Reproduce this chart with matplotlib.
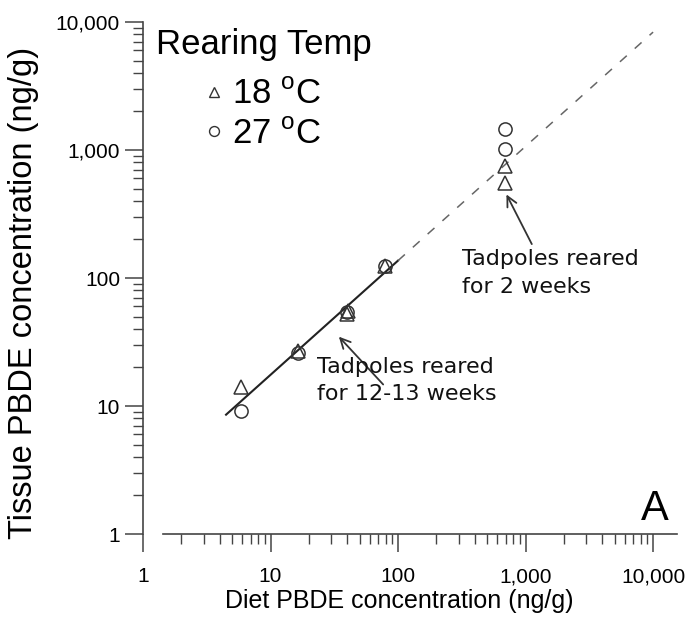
import numpy as np
import matplotlib.pyplot as plt
from matplotlib.ticker import LogLocator, NullFormatter

plt.rcParams['font.family'] = ['Liberation Sans', 'DejaVu Sans']
plt.rcParams['mathtext.fontset'] = 'custom'
plt.rcParams['mathtext.rm'] = 'Liberation Sans'

# data
diet_18 = [5.84, 16.4, 39.6, 40.5, 79, 692, 692]
tissue_18 = [14.2, 27, 52, 55, 124, 750, 556]
diet_27 = [5.84, 16.4, 39.6, 79, 692, 692]
tissue_27 = [9.06, 26, 54, 124, 1453, 1014]

# regression: log10(y) = fit_a + fit_b*log10(x)
fit_a = 0.351
fit_b = 0.8925
fit_start = 4.48
fit_solid_end = 100
fit_end = 10000

ticks = [1, 10, 100, 1000, 10000]

fig = plt.figure(figsize=(6.89, 6.26), dpi=100)
ax = fig.add_axes([143/689, 92/626, 534/689, 512/626])
ax.set_xscale('log')
ax.set_yscale('log')
ax.set_xlim(1, 15400)
ax.set_ylim(1, 10000)

xs = np.logspace(np.log10(fit_start), np.log10(fit_solid_end), 50)
ax.plot(xs, 10**fit_a * xs**fit_b, color='#222222', lw=1.5, zorder=2)
xd = np.logspace(np.log10(fit_solid_end), np.log10(fit_end), 50)
ax.plot(xd, 10**fit_a * xd**fit_b, color='#666666', lw=1.1,
        dashes=(6, 7), zorder=2)

ax.plot(diet_18, tissue_18, linestyle='none', marker='^', ms=10,
        mfc='none', mec='#333333', mew=1.1, label='18 $^\\mathrm{o}$C', zorder=3)
ax.plot(diet_27, tissue_27, linestyle='none', marker='o', ms=9.5,
        mfc='none', mec='#333333', mew=1.1, label='27 $^\\mathrm{o}$C', zorder=3)

leg = ax.legend(title='Rearing Temp', loc='upper left', frameon=False,
                bbox_to_anchor=(156/689, 1 - 28/626), bbox_transform=fig.transFigure,
                fontsize=25, title_fontsize=25, markerscale=0.75, numpoints=1,
                handlelength=0.45, handletextpad=0.3, labelspacing=0.2,
                borderpad=0, borderaxespad=0)
leg._legend_box.sep = 12
for h in leg.legend_handles:
    h.set_markeredgewidth(1.0)

# annotations
ax.annotate('', xy=(692, 470), xytext=(1145, 176),
            arrowprops=dict(arrowstyle='->', color='#333333', lw=1.3,
                            mutation_scale=18))
ax.text(318, 167, 'Tadpoles reared\nfor 2 weeks', family='DejaVu Sans',
        fontsize=16, va='top', ha='left', linespacing=1.45, color='#111111')
ax.annotate('', xy=(33.2, 36.1), xytext=(79.1, 14.2),
            arrowprops=dict(arrowstyle='->', color='#333333', lw=1.3,
                            mutation_scale=18))
ax.text(23.2, 24.3, 'Tadpoles reared\nfor 12-13 weeks', family='DejaVu Sans',
        fontsize=16, va='top', ha='left', linespacing=1.45, color='#111111')

ax.text(10370, 1.1, 'A', fontsize=30, ha='center', va='bottom')

# axes styling
for s in ['top', 'right']:
    ax.spines[s].set_visible(False)
ax.spines['left'].set_color('#444444')
ax.spines['bottom'].set_color('#444444')
ax.spines['left'].set_linewidth(1.2)
ax.spines['bottom'].set_linewidth(1.2)
ax.spines['bottom'].set_bounds(1.44, 15400)

for axis in [ax.xaxis, ax.yaxis]:
    axis.set_minor_locator(LogLocator(base=10, subs=np.arange(2, 10), numticks=10))
    axis.set_minor_formatter(NullFormatter())
ax.set_xticks(ticks)
ax.set_yticks(ticks)
ax.set_xticklabels([f'{t:,}' for t in ticks])
ax.set_yticklabels([f'{t:,}' for t in ticks])
ax.tick_params(which='major', length=13, width=1.1, color='#444444')
ax.tick_params(which='minor', length=7, width=1.0, color='#444444')
ax.tick_params(axis='x', which='major', pad=11, labelsize=15)
ax.tick_params(axis='y', which='major', pad=3.5, labelsize=15)

ax.set_xlabel('Diet PBDE concentration (ng/g)', fontsize=18)
ax.xaxis.set_label_coords(0.48, -0.108)
ax.xaxis.label.set_va('top')
ax.set_ylabel('Tissue PBDE concentration (ng/g)', fontsize=23.5)
ax.yaxis.set_label_coords(-0.195, 0.47)

fig.savefig('out.png', dpi=100)
